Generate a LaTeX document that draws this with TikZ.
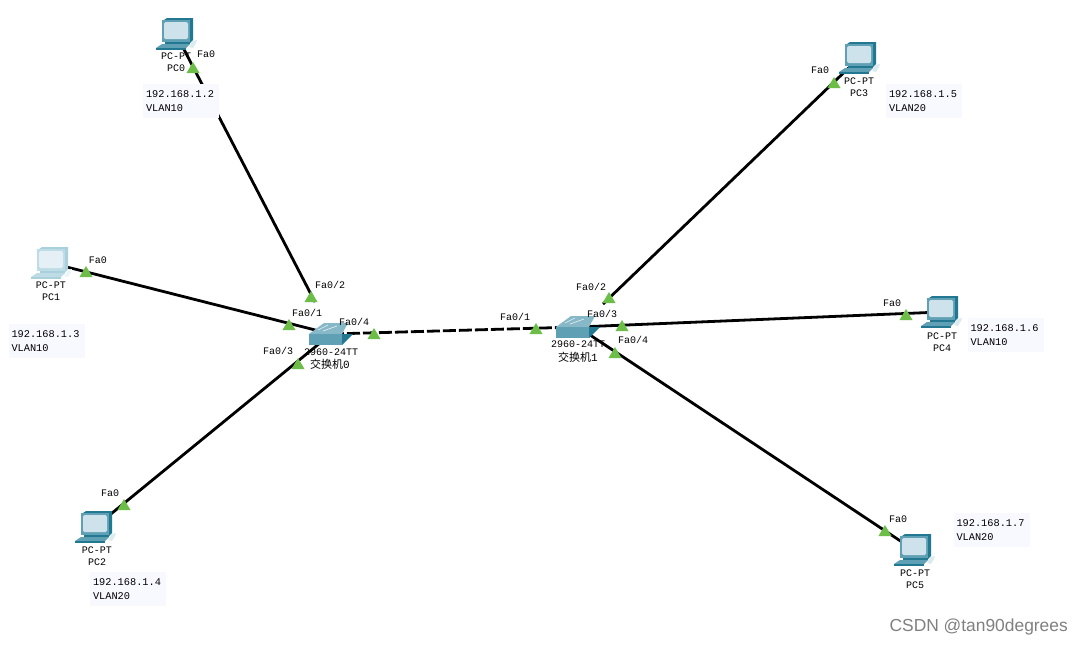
\documentclass[tikz,border=0pt]{standalone}
\usepackage{fontspec}
\setmainfont{Liberation Mono}
\newfontfamily\cjkf{Noto Sans CJK SC}
\newfontfamily\wmf{Liberation Sans}
\definecolor{linkc}{RGB}{0,0,0}
\definecolor{tri}{RGB}{108,190,72}
\definecolor{boxc}{RGB}{248,248,255}
\colorlet{pcdark}{rgb,255:red,35;green,120;blue,145}
\colorlet{pcmid}{rgb,255:red,95;green,160;blue,180}
\colorlet{pcscr}{rgb,255:red,205;green,226;blue,234}
\colorlet{pcpale}{rgb,255:red,170;green,208;blue,220}
\colorlet{pcpalem}{rgb,255:red,190;green,220;blue,230}
\colorlet{pcpales}{rgb,255:red,228;green,240;blue,245}
\tikzset{
  x=1pt,y=-1pt,
  linkline/.style={line width=2.8pt,draw=linkc},
  dashlink/.style={linkline,dash pattern=on 13pt off 3pt},
  port/.style={font=\fontsize{10}{10}\selectfont,inner sep=0pt},
  devlabel/.style={font=\fontsize{10}{12}\selectfont,inner sep=0pt,align=center},
  infobox/.style={fill=boxc,font=\fontsize{10.3}{13.5}\selectfont,align=left,text width=70pt,inner sep=3pt,minimum height=34pt},
  marker/.style={fill=tri,draw=none},
  watermark/.style={font=\wmf\fontsize{17.4}{18}\selectfont,text=black!50,inner sep=0pt}
}
\newcommand{\pcicon}[4]{%
  \begin{scope}[shift={(#1)}]
    \fill[#2] (-12,-14) -- (-9,-16) -- (17,-16) -- (17,6) -- (14,9) -- cycle;
    \fill[#3] (-14,-14) rectangle (14,8);
    \fill[#4,rounded corners=1.5pt] (-12,-12) rectangle (12,5);
    \fill[#2] (-11,8) rectangle (14,10);
    \fill[#3] (-14,10) -- (14,10) -- (10,14) -- (-20,14) -- cycle;
    \fill[#2] (-20,14) rectangle (10,16);
    \fill[#4!70!white] (13,13) -- (16,7) -- (21,6) -- (20,9) -- (17,14) -- cycle;
  \end{scope}}
\newcommand{\swicon}[1]{%
  \begin{scope}[shift={(#1)}]
    \fill[pcmid!75!white] (-22,0) -- (-7,-11) -- (17,-11) -- (11,0) -- cycle;
    \draw[white!85!pcmid,line width=.6pt] (-13,-4) -- (-3,-9) (-8,-3) -- (6,-8);
    \fill[pcmid] (-22,0) rectangle (11,11);
    \fill[pcdark] (11,0) -- (22,0) -- (11,11) -- cycle;
  \end{scope}}
\newcommand{\marktri}[1]{\fill[marker] ($(#1)+(-6.5,5)$) -- ($(#1)+(6.5,5)$) -- ($(#1)+(0,-6)$) -- cycle;}
\usetikzlibrary{calc}
\begin{document}
\begin{tikzpicture}
\useasboundingbox (0,0) rectangle (1083,646);
\fill[white] (0,0) rectangle (1083,646);
% anchors
\coordinate (pc0) at (176,34);
\coordinate (pc1) at (51,263);
\coordinate (pc2) at (95,527);
\coordinate (pc3) at (859,58);
\coordinate (pc4) at (941,312);
\coordinate (pc5) at (914,550);
\coordinate (sw0) at (331,334);
\coordinate (sw1) at (578,327);
\coordinate (end02) at (315,302);
\coordinate (end12) at (603,304);
% links
\draw[linkline] (pc0) -- (end02);
\draw[linkline] (pc1) -- (sw0);
\draw[linkline] (pc2) -- (sw0);
\draw[dashlink] (sw0) -- (sw1);
\draw[linkline] (pc3) -- (end12);
\draw[linkline] (pc4) -- (sw1);
\draw[linkline] (pc5) -- (sw1);
% icons
\pcicon{pc0}{pcdark}{pcmid}{pcscr}
\pcicon{pc1}{pcpale}{pcpalem}{pcpales}
\pcicon{pc2}{pcdark}{pcmid}{pcscr}
\pcicon{pc3}{pcdark}{pcmid}{pcscr}
\pcicon{pc4}{pcdark}{pcmid}{pcscr}
\pcicon{pc5}{pcdark}{pcmid}{pcscr}
\swicon{sw0}
\swicon{sw1}
% info boxes
\node[infobox] (i0) at (181,101) {192.168.1.2\\VLAN10};
\node[infobox] (i1) at (46.5,341) {192.168.1.3\\VLAN10};
\node[infobox] (i2) at (128,589) {192.168.1.4\\VLAN20};
\node[infobox] (i3) at (924,101) {192.168.1.5\\VLAN20};
\node[infobox] (i4) at (1005.5,335) {192.168.1.6\\VLAN10};
\node[infobox] (i5) at (991.5,530) {192.168.1.7\\VLAN20};
% markers
\marktri{193,68}
\marktri{311,297}
\marktri{289,325}
\marktri{298,364}
\marktri{374,334}
\marktri{86,272}
\marktri{124,505}
\marktri{536,329}
\marktri{609,298}
\marktri{622,326}
\marktri{615,353}
\marktri{834,83}
\marktri{906,315}
\marktri{885,531}
% device labels
\node[devlabel] (l0) at (176,62) {PC-PT\\PC0};
\node[devlabel] (l1) at (51,291) {PC-PT\\PC1};
\node[devlabel] (l2) at (97,556) {PC-PT\\PC2};
\node[devlabel] (l3) at (859,87) {PC-PT\\PC3};
\node[devlabel] (l4) at (942,342) {PC-PT\\PC4};
\node[devlabel] (l5) at (915,579) {PC-PT\\PC5};
\node[devlabel] (l6) at (331,352) {2960-24TT};
\node[devlabel] (l7) at (330,364) {{\cjkf\fontsize{11}{12}\selectfont 交换机}{\fontsize{11}{12}\selectfont 0}};
\node[devlabel] (l8) at (578,344) {2960-24TT};
\node[devlabel] (l9) at (578,357) {{\cjkf\fontsize{11}{12}\selectfont 交换机}{\fontsize{11}{12}\selectfont 1}};
% port labels
\node[port] (a0) at (206,54) {Fa0};
\node[port] (a1) at (98,260) {Fa0};
\node[port] (a2) at (110,493) {Fa0};
\node[port] (a3) at (820,70) {Fa0};
\node[port] (a4) at (892,303) {Fa0};
\node[port] (a5) at (898,519) {Fa0};
\node[port] (b1) at (307,313) {Fa0/1};
\node[port] (b2) at (330,285) {Fa0/2};
\node[port] (b3) at (278,351) {Fa0/3};
\node[port] (b4) at (354,322) {Fa0/4};
\node[port] (c1) at (515,317) {Fa0/1};
\node[port] (c2) at (591,287) {Fa0/2};
\node[port] (c3) at (602,314) {Fa0/3};
\node[port] (c4) at (633,340) {Fa0/4};
\node[watermark,anchor=east] (wm) at (1068,627) {CSDN @tan90degrees};
\end{tikzpicture}
\end{document}
